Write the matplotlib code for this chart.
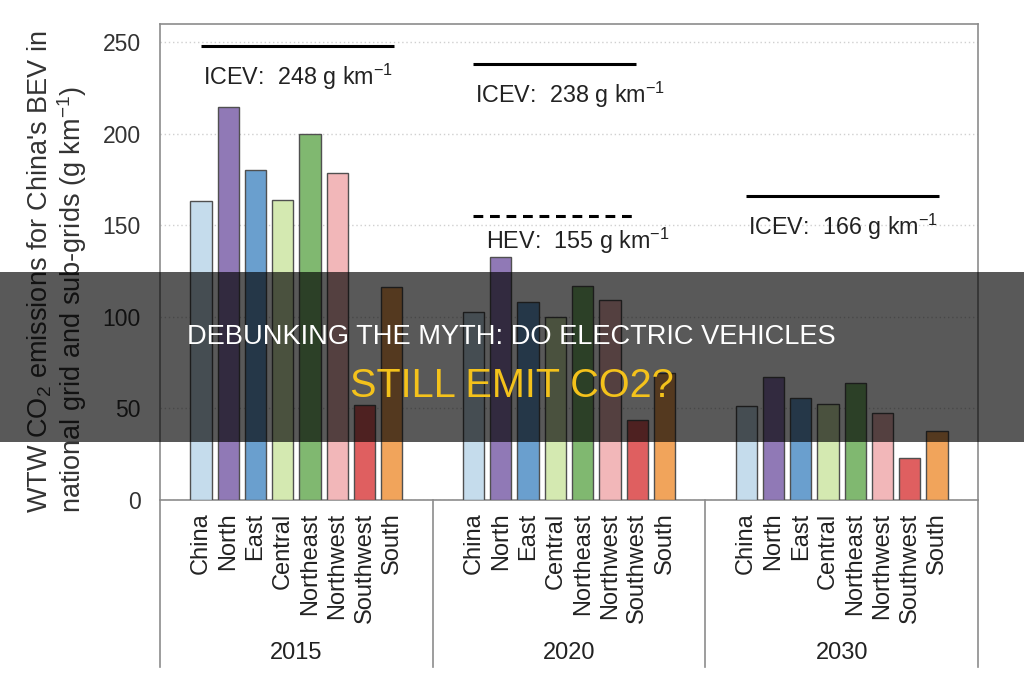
import numpy as np
import matplotlib
matplotlib.use("Agg")
import matplotlib.pyplot as plt
from matplotlib.patches import Rectangle
from matplotlib.transforms import blended_transform_factory

plt.rcParams['font.family'] = ['Liberation Sans', 'DejaVu Sans']
plt.rcParams['mathtext.fontset'] = 'custom'
plt.rcParams['mathtext.rm'] = 'Liberation Sans'
plt.rcParams['mathtext.it'] = 'Liberation Sans:italic'
plt.rcParams['mathtext.default'] = 'regular'

# ── data ─────────────────────────────────────────────────────────────────────
REGIONS = ['China', 'North', 'East', 'Central', 'Northeast', 'Northwest', 'Southwest', 'South']
YEARS = ['2015', '2020', '2030']
BEV_2015 = [163.5, 214.5, 180, 164, 200, 178.5, 52, 116.5]
BEV_2020 = [102.5, 132.5, 108, 100, 117, 109.5, 43.5, 69.5]
BEV_2030 = [51.5, 67, 55.5, 52.5, 64, 47.5, 23, 37.5]
ICEV = [248, 238, 166]
HEV_2020 = 155

COLORS = ['#c5dcec', '#9079b6', '#6a9fce', '#d4e9b1', '#80b870',
          '#f2b7b9', '#df5f60', '#f1a45b']
EDGE = '#505050'
SPINE = '#8c8c8c'

GROUP_W = 10
FIRST = 1.5
BAR_W = 0.78

fig = plt.figure(figsize=(10.24, 6.83), dpi=100)
ax = fig.add_axes([160/1024, 1 - 500/683, 818/1024, 476/683])

bev = [BEV_2015, BEV_2020, BEV_2030]
for g, vals in enumerate(bev):
    x = g * GROUP_W + FIRST + np.arange(len(REGIONS))
    ax.bar(x, vals, BAR_W, color=COLORS, edgecolor=EDGE, linewidth=1.0, zorder=3)

# reference lines + labels
spans = [(1.5, 8.57), (1.47, 7.47), (1.5, 8.57)]
for g, (v, (a, b)) in enumerate(zip(ICEV, spans)):
    ax.plot([g * GROUP_W + a, g * GROUP_W + b], [v, v], color='black', lw=2.2,
            solid_capstyle='butt', zorder=4)
    ax.text(g * GROUP_W + a + 0.07, v - 17, f"ICEV:  {v} g km$^{{-1}}$",
            fontsize=16.8, va='center', ha='left', color='#222222')
a, b = spans[1]
ax.plot([GROUP_W + a, GROUP_W + b], [HEV_2020, HEV_2020], color='black', lw=2.2,
        ls=(0, (3.2, 2.2)), zorder=4)
ax.text(GROUP_W + 1.94, HEV_2020 - 13.5, f"HEV:  {HEV_2020} g km$^{{-1}}$",
        fontsize=16.8, va='center', ha='left', color='#222222')

ax.set_xlim(0, 3 * GROUP_W)
ax.set_ylim(0, 260)
ax.set_yticks([0, 50, 100, 150, 200, 250])
ax.tick_params(axis='y', length=0, pad=14, labelsize=16.5, labelcolor='#333333')
ax.yaxis.grid(True, ls=(0, (1, 2)), color='#d0d0d0', lw=1.0, zorder=0)

xt = np.concatenate([g * GROUP_W + FIRST + np.arange(len(REGIONS)) for g in range(3)])
ax.set_xticks(xt)
ax.set_xticklabels(REGIONS * 3, rotation=90, fontsize=17, color='#222222')
ax.tick_params(axis='x', length=0, pad=9)

for s in ax.spines.values():
    s.set_color(SPINE)
    s.set_linewidth(1.2)

# lower box with group separators and year labels
trans = blended_transform_factory(ax.transData, ax.transAxes)
for g in range(4):
    ax.plot([g * GROUP_W, g * GROUP_W], [0, -0.35], color=SPINE, lw=1.2,
            transform=trans, clip_on=False)
for g, yr in enumerate(YEARS):
    ax.text(g * GROUP_W + GROUP_W / 2, -0.322, yr, transform=trans,
            ha='center', va='center', fontsize=17, color='#222222')

fig.text(57/1024, 1 - 272/683,
         "WTW CO$_2$ emissions for China's BEV in\nnational grid and sub-grids (g km$^{-1}$)",
         rotation=90, ha='center', va='center', multialignment='left',
         fontsize=19.5, color='#333333', linespacing=1.05)

# title banner overlay
fig.add_artist(Rectangle((0, 1 - 442/683), 1, 170/683, transform=fig.transFigure,
                         facecolor='black', alpha=0.65, edgecolor='none', zorder=10))
fig.text(511/1024, 1 - 344/683, "DEBUNKING THE MYTH: DO ELECTRIC VEHICLES",
         ha='center', va='baseline', fontsize=19.6, color='white', zorder=11)
fig.text(511.5/1024, 1 - 397/683, "STILL EMIT CO2?",
         ha='center', va='baseline', fontsize=28.5, color='#f4c21b', zorder=11)

fig.savefig("out.png", dpi=100)
